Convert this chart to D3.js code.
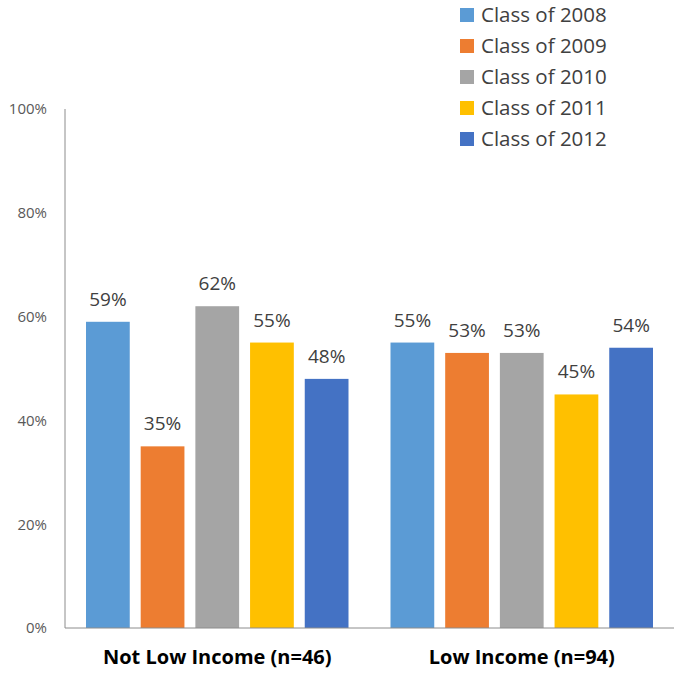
<!DOCTYPE html>
<html>
<head>
<meta charset="utf-8">
<script src="https://cdn.jsdelivr.net/npm/d3@7"></script>
<style>
  body { margin: 0; background: #fff; }
  svg { font-family: "Open Sans", sans-serif; }
</style>
</head>
<body>
<svg width="674" height="677"></svg>
<script>
const groups = ['Not Low Income (n=46)', 'Low Income (n=94)'];
const seriesNames = ['Class of 2008', 'Class of 2009', 'Class of 2010', 'Class of 2011', 'Class of 2012'];
const seriesColors = ['#5B9BD5', '#ED7D31', '#A5A5A5', '#FFC000', '#4472C4'];
const notLowIncome = [59, 35, 62, 55, 48];
const lowIncome = [55, 53, 53, 45, 54];
const yTicks = [0, 20, 40, 60, 80, 100];

const groupValues = [notLowIncome, lowIncome];
const fontFamily = '"Open Sans", sans-serif';

const renderChart = () => {
  const svg = d3.select('svg');
  const margin = { top: 109, bottom: 49, left: 65, right: 0 };
  const svgWidth = +svg.attr('width');
  const svgHeight = +svg.attr('height');
  const innerWidth = svgWidth - margin.left - margin.right;
  const innerHeight = svgHeight - margin.top - margin.bottom;

  const vis = svg.append('g')
    .attr('transform', `translate(${margin.left}, ${margin.top})`);

  const yScale = d3.scaleLinear().domain([0, 100]).range([innerHeight, 0]);
  const x0 = d3.scaleBand().domain(groups).range([0, innerWidth]).padding(0);
  const outer = 21;
  const x1 = d3.scaleBand().domain(seriesNames)
    .range([outer, x0.bandwidth() - outer])
    .paddingInner(0.2).paddingOuter(0);

  // y axis
  const yAxis = d3.axisLeft(yScale).tickValues(yTicks)
    .tickFormat(d => d + '%').tickSize(0).tickPadding(18);
  const yAxisGroup = vis.append('g').call(yAxis);
  yAxisGroup.select('.domain').remove();
  yAxisGroup.selectAll('text')
    .attr('fill', '#595959')
    .style('font-size', '15px')
    .style('font-family', fontFamily);

  // bars
  const groupG = vis.selectAll('g.group')
    .data(groups)
    .enter()
    .append('g')
      .attr('class', 'group')
      .attr('transform', d => `translate(${x0(d)}, 0)`);

  groupG.selectAll('rect')
    .data((g, gi) => groupValues[gi].map((v, i) => ({ name: seriesNames[i], value: v, color: seriesColors[i] })))
    .enter()
    .append('rect')
      .attr('x', d => x1(d.name))
      .attr('y', d => yScale(d.value))
      .attr('width', x1.bandwidth())
      .attr('height', d => innerHeight - yScale(d.value))
      .attr('fill', d => d.color);

  groupG.selectAll('text.label')
    .data((g, gi) => groupValues[gi].map((v, i) => ({ name: seriesNames[i], value: v })))
    .enter()
    .append('text')
      .attr('class', 'label')
      .attr('x', d => x1(d.name) + x1.bandwidth() / 2)
      .attr('y', d => yScale(d.value) - 16)
      .attr('text-anchor', 'middle')
      .attr('fill', '#404040')
      .style('font-size', '19px')
      .text(d => d.value + '%');

  // axis lines
  vis.append('line')
    .attr('x1', 0).attr('x2', 0)
    .attr('y1', 0).attr('y2', innerHeight)
    .attr('stroke', '#8c8c8c').attr('stroke-width', 1);
  vis.append('line')
    .attr('x1', 0).attr('x2', innerWidth)
    .attr('y1', innerHeight).attr('y2', innerHeight)
    .attr('stroke', '#8c8c8c').attr('stroke-width', 1);

  // category labels
  const xAxis = d3.axisBottom(x0).tickSize(0).tickPadding(22);
  const xAxisGroup = vis.append('g')
    .attr('transform', `translate(0, ${innerHeight})`)
    .call(xAxis);
  xAxisGroup.select('.domain').remove();
  xAxisGroup.selectAll('text')
    .attr('fill', '#000')
    .style('font-size', '20px')
    .style('font-weight', 'bold')
    .style('font-family', fontFamily);

  // legend
  const legend = svg.append('g').attr('transform', 'translate(460, 8)');
  const legendRow = legend.selectAll('g')
    .data(seriesNames)
    .enter()
    .append('g')
      .attr('transform', (d, i) => `translate(0, ${i * 31})`);
  legendRow.append('rect')
    .attr('width', 14).attr('height', 14)
    .attr('fill', (d, i) => seriesColors[i]);
  legendRow.append('text')
    .attr('x', 21).attr('y', 7)
    .attr('dy', '0.35em')
    .attr('fill', '#404040')
    .style('font-size', '20.5px')
    .text(d => d);
};

renderChart();
</script>
</body>
</html>
